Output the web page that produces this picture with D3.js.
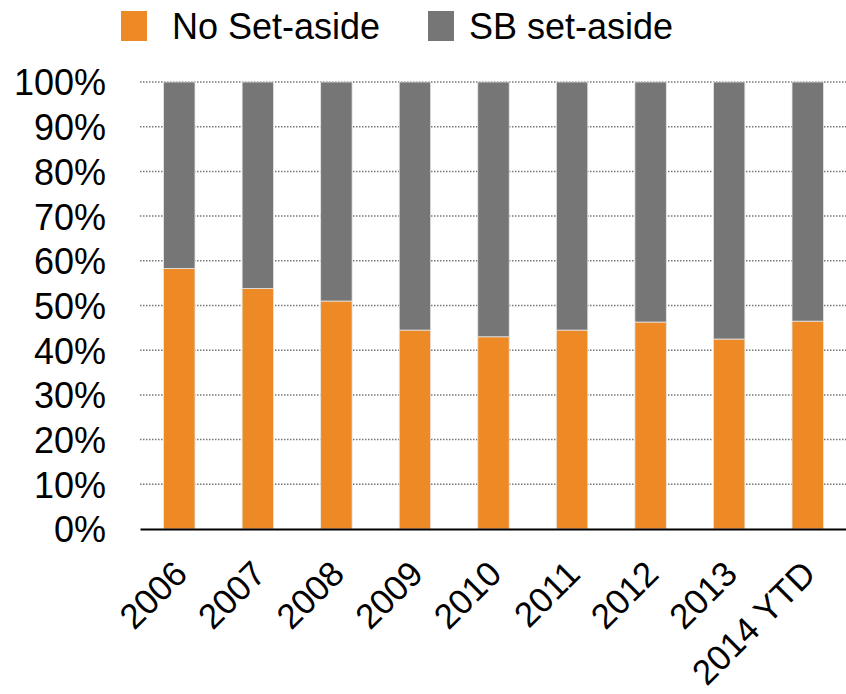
<!DOCTYPE html>
<html>
<head>
<meta charset="utf-8">
<script src="https://cdn.jsdelivr.net/npm/d3@7"></script>
<style>
  body { margin: 0; background: #fff; }
  text { font-family: "Liberation Sans", Arial, sans-serif; fill: #000; }
</style>
</head>
<body>
<svg id="chart" width="846" height="694"></svg>
<script>
// data (share of each year, in %)
var years = ["2006", "2007", "2008", "2009", "2010", "2011", "2012", "2013", "2014 YTD"];
var noSetAside = [58.3, 53.8, 51.0, 44.5, 43.0, 44.5, 46.3, 42.5, 46.5];
var sbSetAside = noSetAside.map(function(v) { return 100 - v; });
var seriesNames = ["No Set-aside", "SB set-aside"];
var seriesColors = ["#ED8A26", "#767676"];
var yTicks = [0, 10, 20, 30, 40, 50, 60, 70, 80, 90, 100];

var svg = d3.select("#chart"),
    margin = {left: 140, top: 82, right: 0, bottom: 165},
    width = +svg.attr("width") + 1 - margin.left - margin.right,
    height = +svg.attr("height") - margin.top - margin.bottom;

var rows = years.map(function(y, i) {
  return {year: y, no: noSetAside[i], sb: sbSetAside[i]};
});
var stack = d3.stack().keys(["no", "sb"])(rows);

var x = d3.scaleBand().domain(years).range([0, width]).paddingInner(0.6).paddingOuter(0.3);
var yScale = d3.scaleLinear().domain([0, 100]).range([height, 0]);

var g = svg.append("g").attr("transform", "translate(" + margin.left + "," + margin.top + ")");

// dotted gridlines
g.append("g").selectAll("line")
  .data(yTicks.filter(function(t) { return t > 0; }))
  .enter().append("line")
  .attr("x1", 0).attr("x2", width)
  .attr("y1", function(d) { return yScale(d); })
  .attr("y2", function(d) { return yScale(d); })
  .attr("stroke", "#777")
  .attr("stroke-width", 1.5)
  .attr("stroke-dasharray", "1.5,1.5");

// stacked bars
g.selectAll("g.layer")
  .data(stack)
  .enter().append("g")
  .attr("class", "layer")
  .attr("fill", function(d, i) { return seriesColors[i]; })
  .selectAll("rect")
  .data(function(d) { return d; })
  .enter().append("rect")
  .attr("x", function(d) { return x(d.data.year); })
  .attr("width", x.bandwidth())
  .attr("y", function(d) { return yScale(d[1]); })
  .attr("height", function(d) { return yScale(d[0]) - yScale(d[1]); })
  .attr("stroke", "#e6e6e6")
  .attr("stroke-width", 0.8);

// y axis labels
var yAxis = d3.axisLeft(yScale).tickValues(yTicks)
  .tickFormat(function(d) { return d + "%"; })
  .tickSize(0).tickPadding(34);
var ya = g.append("g").call(yAxis);
ya.select(".domain").remove();
ya.selectAll("text")
  .style("font-size", "36px")
  .style("font-family", "'Liberation Sans', Arial, sans-serif")
  .attr("dy", "0.36em");

// x axis
var xAxis = d3.axisBottom(x).tickSize(0).tickPadding(0);
var xa = g.append("g").attr("transform", "translate(0," + height + ")").call(xAxis);
xa.select(".domain").attr("stroke", "#000").attr("stroke-width", 2);
xa.selectAll("text")
  .style("font-size", "35px")
  .style("font-family", "'Liberation Sans', Arial, sans-serif")
  .attr("text-anchor", "end")
  .attr("y", 0)
  .attr("dy", "0")
  .attr("transform", "translate(10,47) rotate(-45)");

// legend
var legend = svg.append("g");
var boxX = [121, 428];
var labelX = [172, 469];
seriesNames.forEach(function(name, i) {
  legend.append("rect")
    .attr("x", boxX[i]).attr("y", 11)
    .attr("width", 26).attr("height", 30)
    .attr("fill", seriesColors[i]);
  legend.append("text")
    .attr("x", labelX[i]).attr("y", 39)
    .style("font-size", "36px")
    .text(name);
});
</script>
</body>
</html>
